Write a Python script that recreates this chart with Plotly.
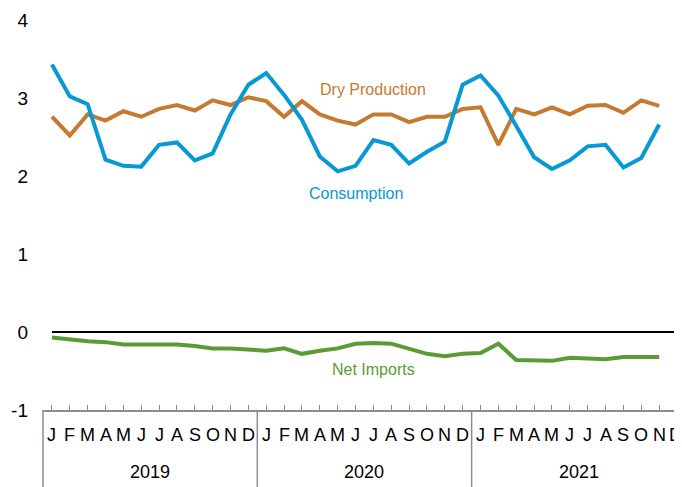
"""Monthly gas balance 2019-2021: dry production, consumption, net imports."""

import plotly.graph_objects as go

MONTHS = ["J", "F", "M", "A", "M", "J", "J", "A", "S", "O", "N", "D"]
YEARS = ["2019", "2020", "2021"]
Y_TICKS = [-1, 0, 1, 2, 3, 4]
Y_TICK_TEXT = ["-1", "0", "1", "2", "3", "4"]

# Jan 2019 .. Nov 2021 (35 months)
dry_production = [
    2.76, 2.52, 2.79, 2.71, 2.83, 2.76, 2.86, 2.91, 2.84, 2.97, 2.91, 3.01,
    2.96, 2.76, 2.96, 2.79, 2.71, 2.66, 2.79, 2.79, 2.69, 2.76, 2.76, 2.86,
    2.88, 2.40, 2.86, 2.79, 2.88, 2.79, 2.90, 2.91, 2.81, 2.97, 2.90,
]
consumption = [
    3.43, 3.02, 2.92, 2.21, 2.13, 2.12, 2.40, 2.43, 2.20, 2.29, 2.79, 3.17,
    3.32, 3.04, 2.72, 2.25, 2.06, 2.13, 2.46, 2.40, 2.16, 2.31, 2.44, 3.17,
    3.29, 3.03, 2.64, 2.24, 2.09, 2.20, 2.38, 2.40, 2.11, 2.23, 2.66,
]
net_imports = [
    -0.07, -0.10, -0.12, -0.13, -0.16, -0.16, -0.16, -0.16, -0.18, -0.21, -0.21, -0.22,
    -0.24, -0.21, -0.28, -0.24, -0.21, -0.15, -0.14, -0.15, -0.21, -0.28, -0.31, -0.28,
    -0.27, -0.15, -0.36, -0.36, -0.37, -0.33, -0.34, -0.35, -0.32, -0.32, -0.32,
]

BLUE = "#0798d6"
BROWN = "#c47a30"
GREEN = "#5b9b35"
AXIS_GREY = "#8c8c8c"
FONT = "Liberation Sans, Arial, sans-serif"

n_months = len(MONTHS) * len(YEARS)
X0, X1 = -0.5, 35.28
x = list(range(n_months))


def paper_x(v):
    return (v - X0) / (X1 - X0)


fig = go.Figure()
for name, vals, color in [
    ("Dry Production", dry_production, BROWN),
    ("Consumption", consumption, BLUE),
    ("Net Imports", net_imports, GREEN),
]:
    fig.add_trace(go.Scatter(
        x=x[:len(vals)], y=vals, name=name, mode="lines",
        line=dict(color=color, width=4), hoverinfo="skip",
    ))

# zero line across the data span
fig.add_shape(type="line", xref="x", yref="y", x0=0, x1=n_months - 1, y0=0, y1=0,
              line=dict(color="black", width=2), layer="below")

# year separators below the axis
for k in range(len(YEARS) + 1):
    px = paper_x(k * len(MONTHS) - 0.5)
    fig.add_shape(type="line", xref="paper", yref="paper", x0=px, x1=px, y0=0, y1=-0.21,
                  line=dict(color=AXIS_GREY, width=1.5))

annotations = []
for i in range(n_months):
    annotations.append(dict(
        x=i, y=0, xref="x", yref="paper", text=MONTHS[i % 12], showarrow=False,
        yanchor="middle", yshift=-25, xshift=-2 if i == n_months - 1 else 0,
        font=dict(size=18, color="black", family=FONT),
    ))
for k, yr in enumerate(YEARS):
    annotations.append(dict(
        x=k * 12 + 5.5, y=0, xref="x", yref="paper", text=yr, showarrow=False,
        yanchor="middle", yshift=-62, font=dict(size=18, color="black", family=FONT),
    ))
for text, ax, ay, color in [
    ("Dry Production", 18, 3.11, BROWN),
    ("Consumption", 17, 1.78, BLUE),
    ("Net Imports", 18, -0.48, GREEN),
]:
    annotations.append(dict(x=ax, y=ay, text=text, showarrow=False,
                            font=dict(size=16, color=color, family=FONT)))

# page body keeps its default 8px margin, so the figure is sized to fit the window
fig.update_layout(
    width=674, height=479,
    margin=dict(l=35, r=0, t=12, b=77),
    paper_bgcolor="white", plot_bgcolor="white",
    showlegend=False,
    font=dict(family=FONT, color="black"),
    annotations=annotations,
)
fig.update_xaxes(
    range=[X0, X1], tickmode="array", tickvals=x, showticklabels=False,
    ticks="inside", ticklen=5, tickwidth=1.2, tickcolor=AXIS_GREY,
    showline=True, linecolor=AXIS_GREY, linewidth=1.5, showgrid=False, zeroline=False,
)
fig.update_yaxes(
    range=[-1, 4], tickmode="array", tickvals=Y_TICKS, ticktext=Y_TICK_TEXT, ticks="",
    showline=False, showgrid=False, zeroline=False,
    tickfont=dict(size=19, color="black", family=FONT), ticklabelstandoff=14,
)

fig.write_html("out.html")
